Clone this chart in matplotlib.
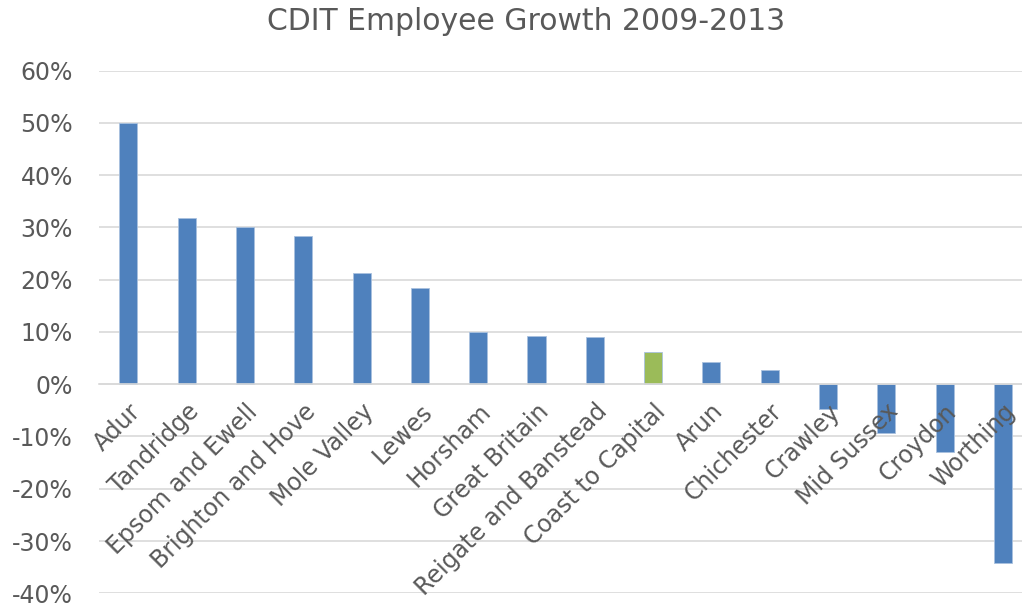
import matplotlib.pyplot as plt
import numpy as np
from matplotlib.ticker import PercentFormatter

areas = ['Adur', 'Tandridge', 'Epsom and Ewell', 'Brighton and Hove', 'Mole Valley',
         'Lewes', 'Horsham', 'Great Britain', 'Reigate and Banstead', 'Coast to Capital',
         'Arun', 'Chichester', 'Crawley', 'Mid Sussex', 'Croydon', 'Worthing']
growth = [50.0, 31.9, 30.0, 28.3, 21.3, 18.5, 9.9, 9.2, 9.0, 6.2,
          4.3, 2.8, -4.8, -9.4, -13.0, -34.2]
highlight = 'Coast to Capital'

y_ticks = [-40, -30, -20, -10, 0, 10, 20, 30, 40, 50, 60]

BLUE = '#4f81bd'
GREEN = '#9bbb59'
TEXT = '#595959'
GRID = '#d9d9d9'

plt.rcParams['font.family'] = ['DejaVu Sans']
plt.rcParams['axes.unicode_minus'] = False

fig = plt.figure(figsize=(10.22, 6.06), dpi=100)
ax = fig.add_axes([0.0971, 0.021, 0.9127, 0.8624])

x = np.arange(len(areas))
colors = [GREEN if a == highlight else BLUE for a in areas]
ax.bar(x, growth, width=0.31, color=colors, edgecolor='#a9c1df', linewidth=0.6, zorder=1)

# horizontal gridlines sit behind the bars, tick labels stay on top
for v in y_ticks:
    ax.axhline(v, color=GRID, linewidth=1.2, zorder=0)

ax.set_xlim(-0.5, len(areas) - 0.5)
ax.set_ylim(-40, 60)
ax.set_yticks(y_ticks)
ax.yaxis.set_major_formatter(PercentFormatter(decimals=0))

for side in ['top', 'right', 'left']:
    ax.spines[side].set_visible(False)
ax.spines['bottom'].set_position(('data', 0))
ax.spines['bottom'].set_color(GRID)
ax.spines['bottom'].set_linewidth(1.2)

ax.set_xticks(x)
ax.set_xticklabels(areas, rotation=45, ha='right', rotation_mode='anchor')
ax.tick_params(axis='x', length=0, pad=11, labelsize=17, labelcolor=TEXT)
ax.tick_params(axis='y', length=0, pad=19, labelsize=17, labelcolor=TEXT)

fig.text(526 / 1022, 1 - 22 / 606, 'CDIT Employee Growth 2009-2013',
         ha='center', va='center', fontsize=21.5, color=TEXT)

fig.savefig('out.png', dpi=100)
